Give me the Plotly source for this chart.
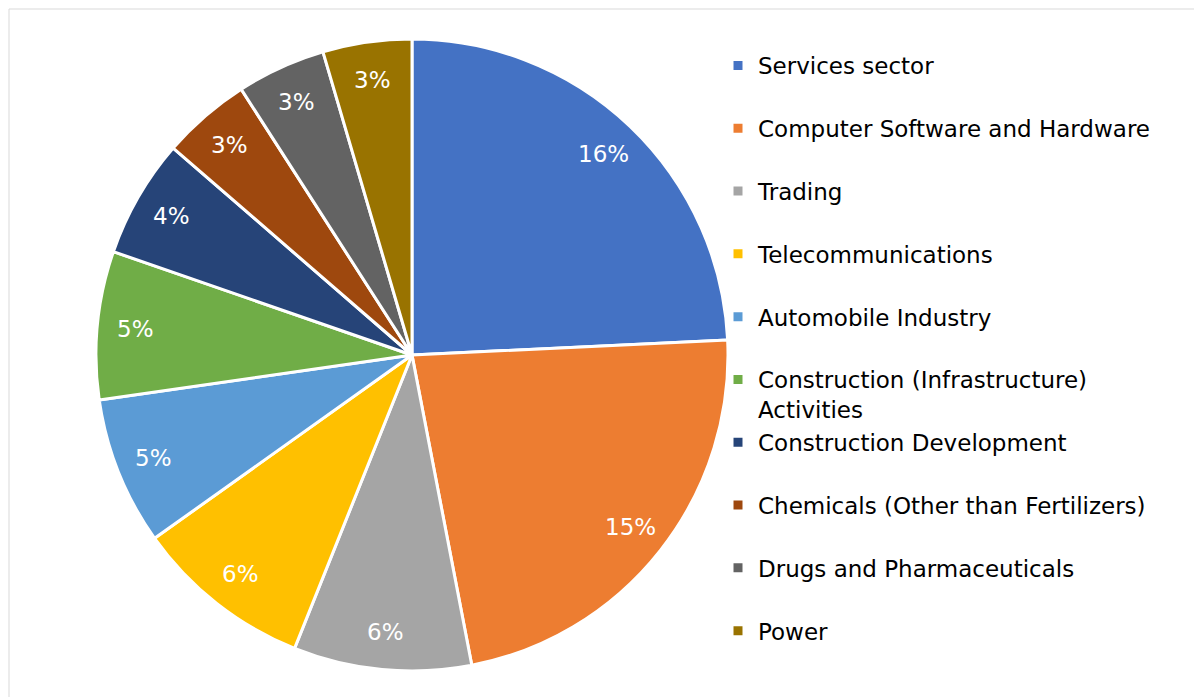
import math
import plotly.graph_objects as go

categories = [
    "Services sector",
    "Computer Software and Hardware",
    "Trading",
    "Telecommunications",
    "Automobile Industry",
    "Construction (Infrastructure) Activities",
    "Construction Development",
    "Chemicals (Other than Fertilizers)",
    "Drugs and Pharmaceuticals",
    "Power",
]
shares = [16, 15, 6, 6, 5, 5, 4, 3, 3, 3]
colors = ["#4472C4", "#ED7D31", "#A5A5A5", "#FFC000", "#5B9BD5",
          "#70AD47", "#264478", "#9E480E", "#636363", "#997300"]


def legend_label(name):
    if name == "Construction (Infrastructure) Activities":
        return "Construction (Infrastructure)<br>Activities"
    return name + "<br>\u00a0"


labels = [legend_label(c) for c in categories]
text = [f"{v}%" for v in shares]

W, H = 1202, 697
OFF = 8  # page offset of the plot div
cx, cy, R = 412 - OFF, 355 - OFF, 316
LABEL_FRAC = 0.88

fig = go.Figure(go.Pie(
    labels=labels,
    values=shares,
    text=text,
    textinfo="none",
    marker=dict(colors=colors, line=dict(color="white", width=3)),
    sort=False,
    direction="clockwise",
    rotation=0,
    domain=dict(x=[(cx - R) / W, (cx + R) / W], y=[(H - cy - R) / H, (H - cy + R) / H]),
    hoverinfo="label+text",
))

# data labels placed at each slice's mid-angle, near the outer edge (like Excel "best fit")
total = sum(shares)
annotations = []
cum = 0
for v, t in zip(shares, text):
    theta = 2 * math.pi * (cum + v / 2) / total
    cum += v
    px = cx + LABEL_FRAC * R * math.sin(theta)
    py = cy - LABEL_FRAC * R * math.cos(theta)
    annotations.append(dict(
        x=px / W, y=1 - py / H, xref="paper", yref="paper",
        text=t, showarrow=False, xanchor="center", yanchor="middle",
        font=dict(color="white", size=23, family="DejaVu Sans"),
    ))

fig.update_layout(
    width=W, height=H,
    margin=dict(l=0, r=0, t=0, b=0),
    paper_bgcolor="white",
    font=dict(family="DejaVu Sans", color="black"),
    showlegend=True,
    legend=dict(
        x=710 / W, xanchor="left",
        y=1 - 36 / H, yanchor="top",
        valign="top",
        font=dict(size=23, family="DejaVu Sans", color="black"),
        bgcolor="rgba(0,0,0,0)",
        traceorder="normal",
    ),
    annotations=annotations,
    shapes=[dict(type="rect", xref="paper", yref="paper",
                 x0=(9 - OFF) / W, x1=1.02, y0=-0.02, y1=1 - (9 - OFF) / H,
                 line=dict(color="#D9D9D9", width=1), layer="below")],
)

fig.write_html("out.html")
